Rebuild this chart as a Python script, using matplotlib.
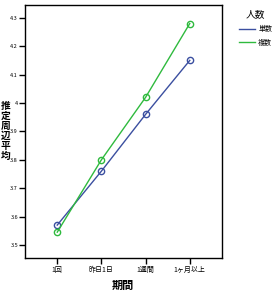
import matplotlib
matplotlib.use('Agg')
import matplotlib.pyplot as plt

plt.rcParams['font.family'] = ['Noto Sans CJK JP', 'DejaVu Sans']

# data
periods = ['1回', '昨日1日', '1週間', '1ヶ月以上']
single = [3.57, 3.76, 3.96, 4.15]
multiple = [3.545, 3.80, 4.02, 4.28]
yticks = [3.5, 3.6, 3.7, 3.8, 3.9, 4.0, 4.1, 4.2, 4.3]
ytick_labels = ['3.5', '3.6', '3.7', '3.8', '3.9', '4', '4.1', '4.2', '4.3']

fig = plt.figure(figsize=(2.77, 2.93), dpi=100)
ax = fig.add_axes([25/277, 1 - 258/293, 197/277, 253.5/293])

x = list(range(len(periods)))
ax.plot(x, single, color='#3b4fa0', lw=1, marker='o', ms=4.5, mfc='none', mew=1, label='単数')
ax.plot(x, multiple, color='#2fba3e', lw=1, marker='o', ms=4.5, mfc='none', mew=1, label='複数')

ax.set_xlim(-0.73, 3.73)
ax.set_ylim(3.454, 4.347)
ax.set_xticks(x)
ax.set_xticklabels(periods, fontsize=5)
ax.set_yticks(yticks)
ax.set_yticklabels(ytick_labels, fontsize=4)
ax.tick_params(axis='y', length=4, width=1, pad=1, colors='black')
ax.tick_params(axis='x', length=4, width=1, pad=2, colors='black')
for s in ax.spines.values():
    s.set_linewidth(1)

fig.text(123/277, 1 - 285/293, '期間', fontsize=8, fontweight='bold', ha='center', va='center')
fig.text(5.5/277, 1 - 131/293, '推\n定\n周\n辺\n平\n均', fontsize=7, fontweight='bold',
         ha='center', va='center', linespacing=1.0)

leg = fig.legend(loc='upper left', bbox_to_anchor=(236/277, 1 - 6/293), frameon=False,
                 fontsize=5, title='人数', title_fontsize=7, handlelength=2.2,
                 handletextpad=0.5, labelspacing=0.8, borderpad=0)
for h in leg.legend_handles:
    h.set_marker('')

fig.savefig('out.png', dpi=100)
